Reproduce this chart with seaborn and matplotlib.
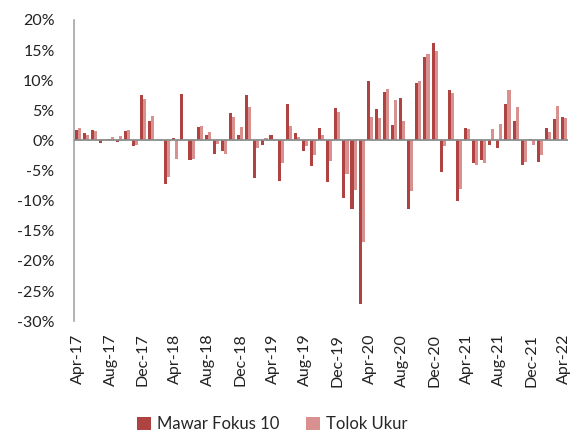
import matplotlib.pyplot as plt
import numpy as np
import pandas as pd
import seaborn as sns

# monthly returns (%), Apr-17 .. Apr-22
months = pd.date_range("2017-04-01", "2022-04-01", freq="MS").strftime("%b-%y").tolist()

mawar = [1.8, 1.3, 1.7, -0.4, 0.3, -0.2, 1.5, -1.0, 7.6, 3.2,
         0.1, -7.2, 0.4, 7.7, -3.2, 2.2, 0.9, -2.3, -1.7, 4.6,
         0.9, 7.6, -6.2, -0.8, 0.9, -6.7, 6.0, 1.3, -1.8, -4.2,
         2.1, -6.9, 5.4, -9.6, -11.4, -27.1, 9.9, 5.2, 8.1, 2.6,
         7.1, -11.4, 9.6, 13.9, 16.1, -5.3, 8.3, -10.0, 2.1, -3.8,
         -3.3, -0.8, -1.2, 6.0, 3.2, -4.0, 0.3, -3.5, 2.1, 3.5,
         3.9]
tolok = [2.1, 0.9, 1.6, 0.2, 0.5, 0.7, 1.8, -0.8, 6.9, 4.0,
         -0.1, -6.1, -3.1, 0.0, -3.0, 2.4, 1.4, -0.6, -2.3, 3.9,
         2.3, 5.5, -1.3, 0.4, -0.1, -3.8, 2.4, 0.6, -1.0, -2.4,
         0.9, -3.4, 4.8, -5.6, -8.2, -16.8, 3.9, 3.8, 8.5, 6.7,
         3.2, -8.4, 9.8, 14.4, 14.9, -1.0, 7.9, -8.0, 1.9, -4.0,
         -3.8, 1.9, 2.7, 8.3, 5.5, -3.5, -0.7, -2.4, 1.4, 5.7,
         3.8]

series_names = ["Mawar Fokus 10", "Tolok Ukur"]
colors = ["#AF4341", "#D9918F"]

df = pd.DataFrame({
	"month": months * 2,
	"value": mawar + tolok,
	"series": [series_names[0]] * len(months) + [series_names[1]] * len(months),
})

sns.set_style("white")
plt.rcParams["font.family"] = ["Lato", "DejaVu Sans"]

fig = plt.figure(figsize=(5.74, 4.34), dpi=100)
ax = fig.add_axes([0.129, 0.26, 0.861, 0.694])

sns.barplot(data=df, x="month", y="value", hue="series", palette=colors,
            width=0.76, saturation=1, linewidth=0, ax=ax, legend=True)

ax.set_xlim(-0.5, len(months) - 0.5)
ax.set_ylim(-30, 20)
ax.set_yticks(np.arange(-30, 21, 5))
ax.set_yticklabels([f"{v}%" for v in np.arange(-30, 21, 5)], fontsize=11.5, color="#222222")
ax.set_xticks(range(0, len(months), 4))
ax.set_xticklabels(months[::4], rotation=90, fontsize=11.5, color="#222222")
ax.tick_params(axis="both", length=0)
ax.tick_params(axis="x", pad=9)
ax.tick_params(axis="y", pad=14)
ax.set_xlabel("")
ax.set_ylabel("")

for s in ["top", "right", "bottom"]:
	ax.spines[s].set_visible(False)
ax.spines["left"].set_color("#A6A6A6")
ax.spines["left"].set_linewidth(1.2)
ax.axhline(0, color="#8C8C8C", lw=1.3, zorder=3)

handles, labels = ax.get_legend_handles_labels()
ax.get_legend().remove()
fig.legend(handles, labels, loc="lower center", bbox_to_anchor=(0.475, -0.03), ncol=2,
           frameon=False, fontsize=12, handlelength=0.8, handleheight=0.8,
           handletextpad=0.4, columnspacing=1.6)

fig.savefig("out.png", dpi=100)
